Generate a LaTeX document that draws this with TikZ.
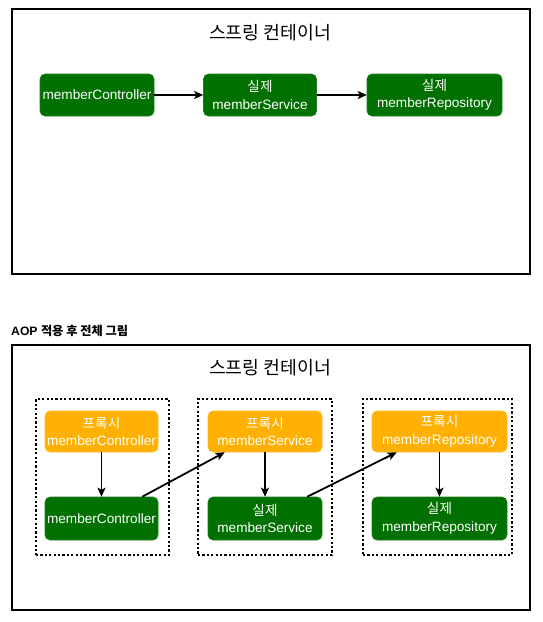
\documentclass[tikz,border=0pt]{standalone}
\usepackage{fontspec}
\setmainfont{Liberation Sans}
\newfontfamily\kr{Noto Sans CJK KR}
\usetikzlibrary{arrows.meta,positioning}
\definecolor{realgreen}{HTML}{007000}
\definecolor{realedge}{HTML}{1E7E1E}
\definecolor{proxyorange}{HTML}{FFB000}
\definecolor{proxyedge}{HTML}{FFBC2A}
\tikzset{
  box/.style={rounded corners=5pt, text=white, align=center, inner sep=0pt,
    font=\fontsize{13.6}{17.5}\selectfont},
  real/.style={box, fill=realgreen, draw=realedge, line width=0.6pt},
  proxy/.style={box, fill=proxyorange, draw=proxyedge, line width=0.6pt},
  frame/.style={draw=black, line width=2pt},
  group/.style={draw=black, line width=2.3pt, dash pattern=on 2.2pt off 2.2pt},
  conn/.style={draw=black, line width=1.8pt, -{Stealth[length=9pt,width=8pt,inset=2pt]}},
  title/.style={font=\kr\fontsize{18.3}{21}\selectfont, text=black, inner sep=0pt}
}
\begin{document}
\begin{tikzpicture}[x=1pt,y=-1pt]
\useasboundingbox (0,0) rectangle (542,622);
% ---------- top diagram ----------
\node[frame, minimum width=518pt, minimum height=265pt, inner sep=0pt] (top) at (271,141) {};
\node[title] (t1) at (270,33) {스프링 컨테이너};
\node[real, minimum width=114pt, minimum height=42pt] (c1) at (97,95) {memberController};
\node[real, minimum width=113pt, minimum height=42pt] (s1) at (260,95) {{\kr 실제}\\memberService};
\node[real, minimum width=135pt, minimum height=42pt] (r1) at (434.5,95) {{\kr 실제}\\memberRepository};
\draw[conn] (c1) -- (s1);
\draw[conn] (s1) -- (r1);
% ---------- caption ----------
\node[anchor=west, inner sep=0pt, font=\bfseries\fontsize{12.2}{14}\selectfont] (cap) at (11,331) {AOP {\kr\bfseries 적용 후 전체 그림}};
% ---------- bottom diagram ----------
\node[frame, minimum width=518pt, minimum height=265pt, inner sep=0pt] (bot) at (271,477.5) {};
\node[title] (t2) at (270,368) {스프링 컨테이너};
\node[group, minimum width=133pt, minimum height=156pt, inner sep=0pt] (g1) at (102.5,477) {};
\node[group, minimum width=134pt, minimum height=156pt, inner sep=0pt] (g2) at (265,477) {};
\node[group, minimum width=149pt, minimum height=156pt, inner sep=0pt] (g3) at (437.5,477) {};
\node[proxy, minimum width=113pt, minimum height=41pt] (pc) at (101.5,431.5) {{\kr 프록시}\\memberController};
\node[real, minimum width=113pt, minimum height=43pt] (rc) at (101.5,518.5) {memberController};
\node[proxy, minimum width=114pt, minimum height=41pt] (ps) at (265,431.5) {{\kr 프록시}\\memberService};
\node[real, minimum width=114pt, minimum height=43pt] (rs) at (265,518.5) {{\kr 실제}\\memberService};
\node[proxy, minimum width=135pt, minimum height=41pt] (pr) at (439.5,431.5) {{\kr 프록시}\\memberRepository};
\node[real, minimum width=135pt, minimum height=43pt] (rr) at (439.5,518.5) {{\kr 실제}\\memberRepository};
\draw[conn] (pc) -- (rc);
\draw[conn] (ps) -- (rs);
\draw[conn] (pr) -- (rr);
\draw[conn] ([xshift=-16pt]rc.north east) -- ([xshift=17pt]ps.south west);
\draw[conn] ([xshift=-15pt]rs.north east) -- ([xshift=25pt]pr.south west);
\end{tikzpicture}
\end{document}
